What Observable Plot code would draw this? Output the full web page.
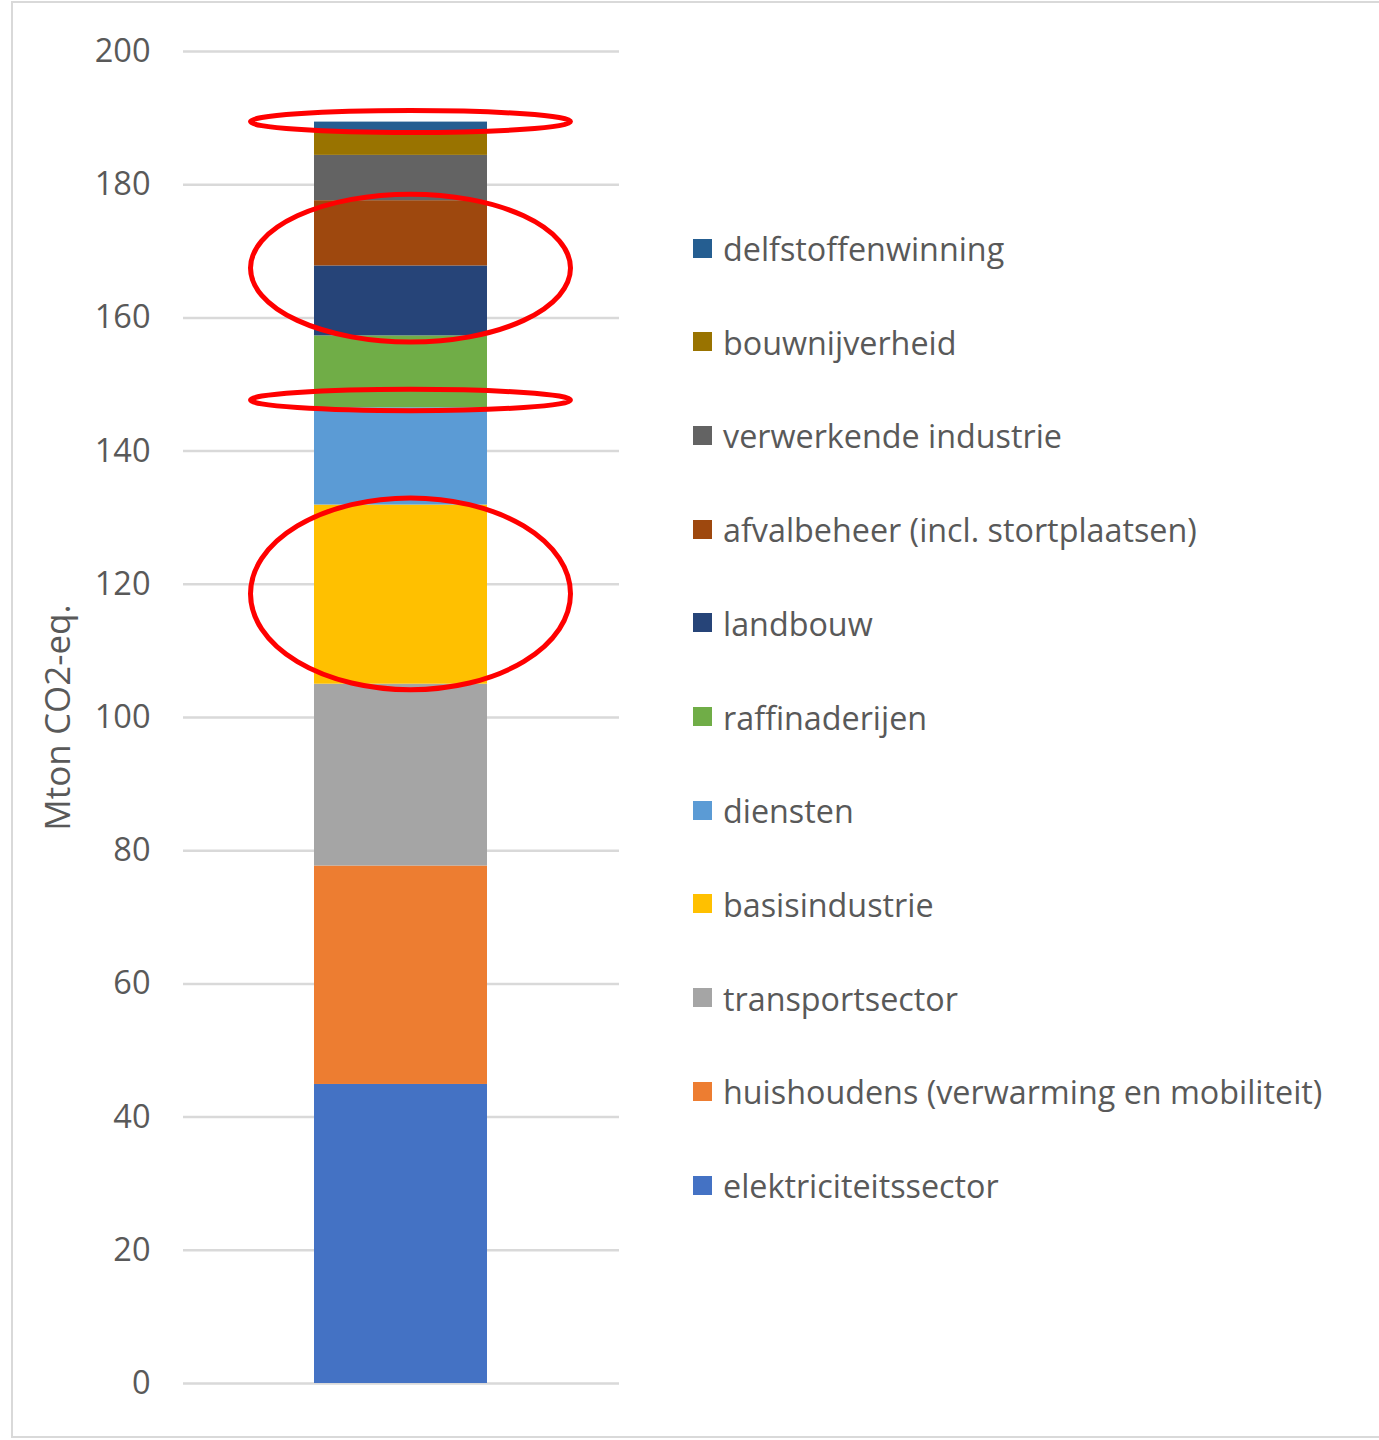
<!DOCTYPE html>
<html>
<head>
<meta charset="utf-8">
<script src="https://cdn.jsdelivr.net/npm/d3@7"></script>
<script src="https://cdn.jsdelivr.net/npm/@observablehq/plot@0.6"></script>
<style>
  body { margin: 0; background: #fff; }
  #wrap { position: relative; width: 1379px; height: 1440px; overflow: hidden; font-family: "Open Sans", sans-serif; color: #595959; }
  #frame { position: absolute; left: 11px; top: 1px; width: 1400px; height: 1437px; border: 2.5px solid #d9d9d9; box-sizing: border-box; }
  #chart { position: absolute; left: 0; top: 0; }
  #legend { position: absolute; left: 693px; top: 0; }
  .item { position: absolute; left: 0; white-space: nowrap; display: flex; align-items: center; font-size: 32.3px; line-height: 40px; }
  .sw { width: 19px; height: 19px; margin-right: 11px; flex: none; }
</style>
</head>
<body>
<div id="wrap">
  <div id="frame"></div>
  <div id="chart"></div>
  <div id="legend"></div>
</div>
<script>
// ---- data ----
const categories = [
  "elektriciteitssector",
  "huishoudens (verwarming en mobiliteit)",
  "transportsector",
  "basisindustrie",
  "diensten",
  "raffinaderijen",
  "landbouw",
  "afvalbeheer (incl. stortplaatsen)",
  "verwerkende industrie",
  "bouwnijverheid",
  "delfstoffenwinning"
];
const values = [44.9, 32.8, 27.3, 26.9, 14.6, 10.8, 10.5, 9.8, 6.8, 3.6, 1.4];
const colors = ["#4472C4", "#ED7D31", "#A5A5A5", "#FFC000", "#5B9BD5", "#70AD47", "#264478", "#9E480E", "#636363", "#997300", "#255E91"];
const yTicks = [0, 20, 40, 60, 80, 100, 120, 140, 160, 180, 200];
const yLabel = "Mton CO2-eq.";
// red highlight ellipses (centre and half-height in Mton)
const highlightY = [189.4, 167.4, 147.6, 118.5];
const highlightR = [1.65, 11.1, 1.6, 14.4];

const data = categories.map((c, i) => ({category: c, value: values[i], group: "totaal"}));

const plot = Plot.plot({
  width: 640,
  height: 1440,
  marginLeft: 183,
  marginRight: 21,
  marginTop: 51,
  marginBottom: 57,
  style: {fontFamily: "Open Sans, sans-serif", color: "#595959", background: "transparent", overflow: "visible"},
  x: {type: "band", domain: ["totaal"], padding: 0.43, axis: null},
  y: {domain: [0, 200]},
  color: {domain: categories, range: colors},
  marks: [
    Plot.ruleY(yTicks, {stroke: "#d9d9d9", strokeWidth: 2.5}),
    Plot.barY(data, {x: "group", y: "value", fill: "category"}),
    Plot.axisY({ticks: yTicks, tickSize: 0, tickPadding: 33, fontSize: 32.5, label: null, tickFormat: d => String(d)}),
    Plot.text([yLabel], {frameAnchor: "left", dx: -125, rotate: -90, textAnchor: "middle", fontSize: 35, fill: "#595959"})
  ]
});

// ellipse annotations positioned through the plot's scales
const xs = plot.scale("x"), ys = plot.scale("y");
const cx = xs.apply("totaal") + xs.bandwidth / 2 + 10;
const svg = d3.select(plot);
highlightY.forEach((v, i) => {
  const cy = ys.apply(v);
  const ry = Math.abs(ys.apply(v - highlightR[i]) - cy);
  svg.append("ellipse")
    .attr("cx", cx).attr("cy", cy).attr("rx", 160).attr("ry", ry)
    .attr("fill", "none").attr("stroke", "#ff0000").attr("stroke-width", 5);
});
document.getElementById("chart").appendChild(plot);

// legend (top item first)
const legend = document.getElementById("legend");
const order = categories.slice().reverse();
order.forEach((c, i) => {
  const row = document.createElement("div");
  row.className = "item";
  row.style.top = (248 - 20 + i * 93.7) + "px";
  const sw = document.createElement("span");
  sw.className = "sw";
  sw.style.background = colors[categories.indexOf(c)];
  const t = document.createElement("span");
  t.textContent = c;
  row.appendChild(sw);
  row.appendChild(t);
  legend.appendChild(row);
});
</script>
</body>
</html>
